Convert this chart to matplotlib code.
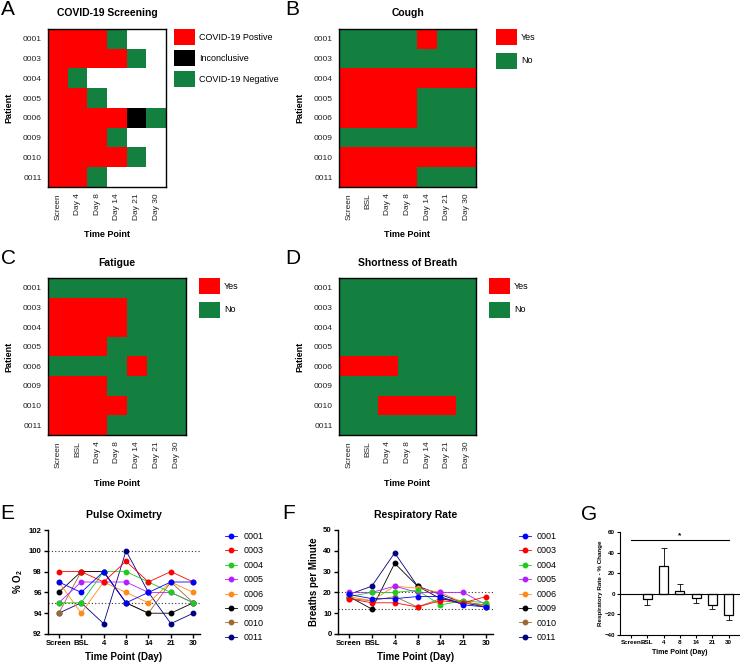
import numpy as np
import matplotlib
matplotlib.use("Agg")
import matplotlib.pyplot as plt
from matplotlib.colors import ListedColormap, BoundaryNorm
from matplotlib.patches import Patch

plt.rcParams['font.family'] = ['Liberation Sans', 'DejaVu Sans']
plt.rcParams['mathtext.fontset'] = 'custom'
plt.rcParams['mathtext.rm'] = 'Liberation Sans'
plt.rcParams['mathtext.bf'] = 'Liberation Sans:bold'

# ---- data ----
patients = ['0001', '0003', '0004', '0005', '0006', '0009', '0010', '0011']
covid_cols = ['Screen', 'Day 4', 'Day 8', 'Day 14', 'Day 21', 'Day 30']
symptom_cols = ['Screen', 'BSL', 'Day 4', 'Day 8', 'Day 14', 'Day 21', 'Day 30']

# 1 = positive, 2 = inconclusive, 3 = negative, nan = not tested
covid = [
    [1, 1, 1, 3, np.nan, np.nan],
    [1, 1, 1, 1, 3, np.nan],
    [1, 3, np.nan, np.nan, np.nan, np.nan],
    [1, 1, 3, np.nan, np.nan, np.nan],
    [1, 1, 1, 1, 2, 3],
    [1, 1, 1, 3, np.nan, np.nan],
    [1, 1, 1, 1, 3, np.nan],
    [1, 1, 3, np.nan, np.nan, np.nan],
]
# 1 = yes, 0 = no
cough = [
    [0, 0, 0, 0, 1, 0, 0],
    [0, 0, 0, 0, 0, 0, 0],
    [1, 1, 1, 1, 1, 1, 1],
    [1, 1, 1, 1, 0, 0, 0],
    [1, 1, 1, 1, 0, 0, 0],
    [0, 0, 0, 0, 0, 0, 0],
    [1, 1, 1, 1, 1, 1, 1],
    [1, 1, 1, 1, 0, 0, 0],
]
fatigue = [
    [0, 0, 0, 0, 0, 0, 0],
    [1, 1, 1, 1, 0, 0, 0],
    [1, 1, 1, 1, 0, 0, 0],
    [1, 1, 1, 0, 0, 0, 0],
    [0, 0, 0, 0, 1, 0, 0],
    [1, 1, 1, 0, 0, 0, 0],
    [1, 1, 1, 1, 0, 0, 0],
    [1, 1, 1, 0, 0, 0, 0],
]
breath = [
    [0, 0, 0, 0, 0, 0, 0],
    [0, 0, 0, 0, 0, 0, 0],
    [0, 0, 0, 0, 0, 0, 0],
    [0, 0, 0, 0, 0, 0, 0],
    [1, 1, 1, 0, 0, 0, 0],
    [0, 0, 0, 0, 0, 0, 0],
    [0, 0, 1, 1, 1, 1, 0],
    [0, 0, 0, 0, 0, 0, 0],
]

time_points = ['Screen', 'BSL', '4', '8', '14', '21', '30']
spo2 = [
    [97, 96, 98, 95, 96, 97, 97],
    [98, 98, 97, 99, 97, 98, 97],
    [95, 95, 98, 98, 97, 96, 95],
    [95, 97, 97, 97, 96, 96, 95],
    [97, 94, 97, 96, 95, 97, 96],
    [96, 98, 98, 95, 94, 94, 95],
    [94, 98, 98, 95, 94, 97, 95],
    [94, 95, 93, 100, 96, 93, 94],
]
resp = [
    [19, 17, 17, 18, 18, 14, 13],
    [17, 15, 15, 13, 16, 15, 18],
    [18, 20, 20, 21, 14, 16, 15],
    [20, 20, 23, 20, 20, 20, 14],
    [18, 16, 23, 22, 20, 15, 14],
    [18, 12, 34, 23, 17, 15, 14],
    [17, 16, 18, 13, 17, 16, 13],
    [19, 23, 39, 23, 19, 15, 13],
]
resp_change = [np.nan, -5.5, 27, 2.3, -4, -10.5, -20.5]
resp_change_err = [np.nan, 5.5, 17, 7.7, 4.5, 4.5, 4.5]

patient_colors = ['#0000FF', '#FF0000', '#1ECC1E', '#B41EFF',
                  '#FF8A1A', '#000000', '#9C6B30', '#000080']

RED = '#FF0000'
GREEN = '#148040'

W, H = 740, 663
fig = plt.figure(figsize=(W / 100, H / 100), dpi=100)


def place(left, top, right, bottom):
    return fig.add_axes([left / W, 1 - bottom / H, (right - left) / W, (bottom - top) / H])


def heatmap(ax, data, cols, cmap, norm, title, legend_labels, legend_colors,
            leg_x, leg_space, ylab_x, xlab_y):
    arr = np.ma.masked_invalid(np.array(data, dtype=float))
    ax.imshow(arr, cmap=cmap, norm=norm, aspect='auto', interpolation='nearest')
    ax.set_xticks(range(len(cols)))
    ax.set_xticklabels(cols, rotation=90)
    ax.set_yticks(range(len(patients)))
    ax.set_yticklabels(patients)
    ax.tick_params(length=0, labelsize=6, pad=4.5, labelcolor='#222222')
    for s in ax.spines.values():
        s.set_linewidth(1.0)
    ax.set_title(title, fontsize=7.5, fontweight='bold', pad=9)
    ax.set_ylabel('Patient', fontsize=6.5, fontweight='bold')
    ax.set_xlabel('Time Point', fontsize=6.5, fontweight='bold')
    ax.yaxis.set_label_coords(ylab_x, 0.5)
    ax.xaxis.set_label_coords(0.5, xlab_y)
    handles = [Patch(facecolor=c, edgecolor='none', label=l)
               for c, l in zip(legend_colors, legend_labels)]
    ax.legend(handles=handles, loc='upper left', bbox_to_anchor=(leg_x, 1.0),
              frameon=False, fontsize=6.5, handlelength=2.3, handleheight=2.3,
              labelspacing=leg_space, handletextpad=0.45, borderpad=0, borderaxespad=0)


covid_cmap = ListedColormap([RED, '#000000', GREEN])
covid_cmap.set_bad('white')
covid_norm = BoundaryNorm([0.5, 1.5, 2.5, 3.5], 3)
yn_cmap = ListedColormap([GREEN, RED])
yn_norm = BoundaryNorm([-0.5, 0.5, 1.5], 2)

axA = place(48, 29, 166, 187)
heatmap(axA, covid, covid_cols, covid_cmap, covid_norm, 'COVID-19 Screening',
        ['COVID-19 Postive', 'Inconclusive', 'COVID-19 Negative'],
        [RED, '#000000', GREEN], 1.068, 0.6, -0.297, -0.27)

axB = place(339, 29, 476, 187)
heatmap(axB, cough, symptom_cols, yn_cmap, yn_norm, 'Cough', ['Yes', 'No'],
        [RED, GREEN], 1.146, 0.9, -0.255, -0.27)

axC = place(48, 278, 186, 435)
heatmap(axC, fatigue, symptom_cols, yn_cmap, yn_norm, 'Fatigue', ['Yes', 'No'],
        [RED, GREEN], 1.094, 0.9, -0.254, -0.28)

axD = place(339, 278, 476, 435)
heatmap(axD, breath, symptom_cols, yn_cmap, yn_norm, 'Shortness of Breath', ['Yes', 'No'],
        [RED, GREEN], 1.095, 0.9, -0.255, -0.28)


def prism_style(ax, lw=1.0, size=6):
    ax.spines['top'].set_visible(False)
    ax.spines['right'].set_visible(False)
    ax.spines['left'].set_linewidth(lw)
    ax.spines['bottom'].set_linewidth(lw)
    ax.tick_params(direction='out', length=3, width=lw, labelsize=size, pad=1.5)
    for lab in ax.get_xticklabels() + ax.get_yticklabels():
        lab.set_fontweight('bold')


def line_panel(ax, data, ylim, yticks, refs, title, ylabel, ylab_x):
    x = np.arange(len(time_points))
    handles = {}
    # earlier patients sit on top, as in the source figure
    for i in reversed(range(len(patients))):
        h, = ax.plot(x, data[i], color=patient_colors[i], marker='o', ms=3.2,
                     lw=0.6, label=patients[i])
        handles[i] = h
    for r in refs:
        ax.axhline(r, color='#333333', lw=0.8, ls=(0, (1, 2)), zorder=0)
    ax.set_xlim(-0.48, 6.3)
    ax.set_ylim(*ylim)
    ax.set_yticks(yticks)
    ax.set_xticks(x)
    ax.set_xticklabels(time_points)
    prism_style(ax, size=5.6)
    ax.set_title(title, fontsize=7.5, fontweight='bold', pad=9)
    ax.set_ylabel(ylabel, fontsize=7, fontweight='bold')
    ax.set_xlabel('Time Point (Day)', fontsize=7, fontweight='bold')
    ax.yaxis.set_label_coords(ylab_x, 0.5)
    ax.xaxis.set_label_coords(0.5, -0.17)
    ax.legend(handles=[handles[i] for i in range(len(patients))], loc='upper left',
              bbox_to_anchor=(1.165, 0.98), frameon=False, fontsize=6.5,
              handlelength=1.35, handletextpad=0.7, labelspacing=0.6,
              numpoints=1, borderpad=0, borderaxespad=0)


axE = place(48, 530, 200, 634)
line_panel(axE, spo2, (92, 102), [92, 94, 96, 98, 100, 102], [100, 95],
           'Pulse Oximetry', r'% O$_\mathbf{2}$', -0.15)

axF = place(338, 530, 493, 634)
line_panel(axF, resp, (0, 50), [0, 10, 20, 30, 40, 50], [20, 12],
           'Respiratory Rate', 'Breaths per Minute', -0.123)

# ---- G: percent change bars ----
axG = place(620, 532, 740, 635)
xg = np.arange(len(time_points))
means = np.array(resp_change)
errs = np.array(resp_change_err)
axG.bar(xg, means, width=0.55, color='white', edgecolor='black', lw=0.9, zorder=2)
lower = np.where(means < 0, errs, 0)
upper = np.where(means > 0, errs, 0)
axG.errorbar(xg, means, yerr=[lower, upper], fmt='none', ecolor='black',
             elinewidth=0.6, capsize=2, capthick=0.6, zorder=1)
axG.axhline(0, color='black', lw=0.8, zorder=3)
axG.plot([0, 6], [52, 52], color='black', lw=0.8)
axG.text(3, 53, '*', ha='center', va='bottom', fontsize=6, fontweight='bold')
axG.set_xlim(-0.67, 6.69)
axG.set_ylim(-40, 60)
axG.set_yticks([-40, -20, 0, 20, 40, 60])
axG.set_xticks(xg)
axG.set_xticklabels(time_points)
prism_style(axG, lw=0.8, size=4.5)
axG.tick_params(length=2)
axG.set_ylabel('Respiratory Rate - % Change', fontsize=4.5, fontweight='bold')
axG.set_xlabel('Time Point (Day)', fontsize=5, fontweight='bold')
axG.yaxis.set_label_coords(-0.14, 0.5)
axG.xaxis.set_label_coords(0.5, -0.14)

# ---- panel letters ----
for letter, lx, ly in [('A', 1, 0), ('B', 285, 0), ('C', 1, 249), ('D', 285, 249),
                       ('E', 0, 504), ('F', 282, 504), ('G', 581, 505)]:
    fig.text(lx / W, 1 - ly / H, letter, fontsize=15, va='top', ha='left')

fig.savefig('out.png', dpi=100)
